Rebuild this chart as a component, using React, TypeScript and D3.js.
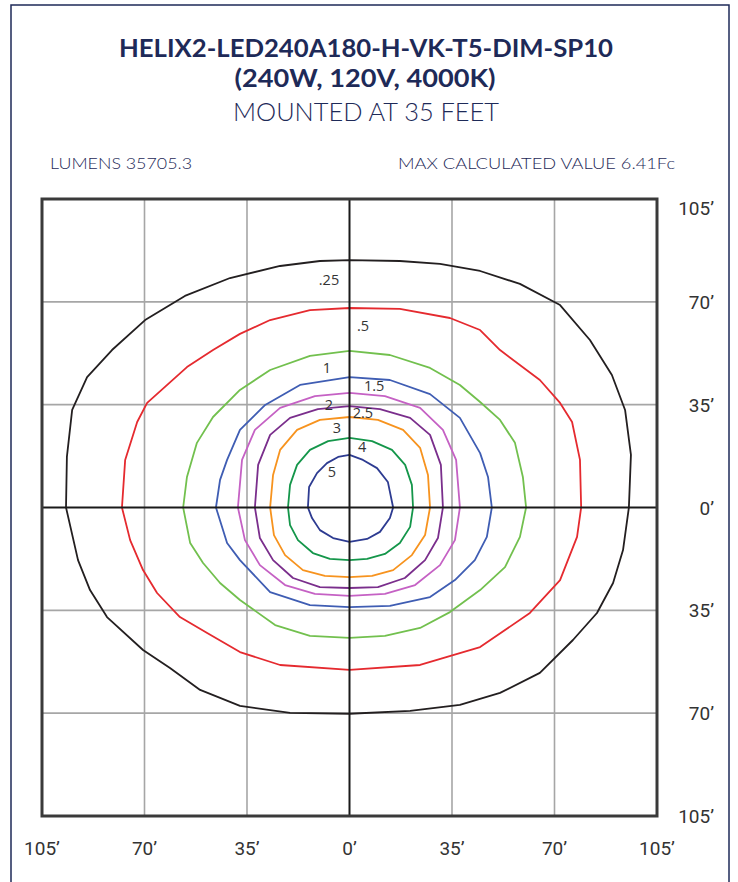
import { useEffect } from 'react';
import * as d3 from 'd3';

type Pt = [number, number];

// axis ticks (feet)
const TICKS = [-105, -70, -35, 0, 35, 70, 105];
const TICK_LABELS = ['105’', '70’', '35’', '0’', '35’', '70’', '105’'];
const Y_TICK_LABELS = ['105’', '70’', '35’', '0’', '35’', '70’', '105’'];

// iso-footcandle lines, in feet from the pole
const iso025: Pt[] = [
  [0, 84.2], [17.2, 83.9], [30.9, 82.9], [44.6, 80.5], [58.2, 76.1], [71.9, 68.9],
  [82.1, 57.0], [89.6, 45.1], [94.1, 33.2], [96.1, 17.9], [95.4, 0], [93.4, -14.5],
  [90.0, -25.7], [84.5, -35.9], [76.3, -45.1], [65.0, -56.3], [51.4, -63.1], [37.7, -67.2],
  [20.7, -69.2], [0, -70.2], [-20.3, -69.9], [-37.4, -67.5], [-51.0, -62.1], [-61.3, -54.6],
  [-70.5, -48.5], [-82.8, -37.3], [-88.6, -28.1], [-92.7, -17.9], [-96.8, 0], [-96.5, 17.2],
  [-94.7, 33.2], [-89.6, 44.4], [-81.1, 53.6], [-69.8, 63.8], [-56.2, 72.0], [-40.8, 78.1],
  [-23.7, 82.2], [-10.1, 83.9],
];
const iso05: Pt[] = [
  [0, 67.9], [17.2, 67.6], [34.3, 64.5], [44.6, 60.4], [51.4, 53.6], [65.0, 43.4],
  [71.9, 35.6], [76.0, 29.1], [78.7, 16.2], [79.1, 0], [77.7, -10.0], [71.9, -24.7],
  [61.6, -35.9], [44.6, -47.5], [24.1, -53.6], [0, -55.3], [-23.7, -53.6], [-37.4, -49.2],
  [-48.6, -42.7], [-57.9, -37.3], [-65.7, -29.1], [-70.5, -21.3], [-74.9, -11.1], [-77.7, 0],
  [-76.6, 16.2], [-72.5, 29.1], [-69.1, 35.6], [-55.5, 47.8], [-46.6, 53.6], [-37.4, 59.1],
  [-27.1, 63.8], [-13.5, 67.2],
];
const iso1: Pt[] = [
  [0, 53.3], [13.8, 51.9], [27.5, 47.5], [37.7, 41.7], [44.6, 35.9], [51.4, 29.8],
  [56.5, 22.0], [59.2, 10.4], [60.3, 0], [58.2, -10.0], [53.1, -20.3], [44.6, -28.1],
  [34.3, -35.6], [24.1, -41.0], [12.1, -43.7], [0, -44.4], [-13.5, -43.7], [-25.4, -40.0],
  [-37.4, -31.5], [-44.2, -25.7], [-50.0, -18.9], [-54.4, -12.1], [-56.8, 0], [-55.5, 10.4],
  [-52.1, 22.0], [-46.6, 30.8], [-37.4, 40.0], [-27.1, 46.8], [-13.5, 51.6],
];
const iso15: Pt[] = [
  [0, 44.4], [13.8, 43.4], [27.5, 38.6], [37.7, 30.5], [44.6, 18.5], [47.3, 10.4],
  [48.6, 0], [46.9, -10.0], [42.8, -17.9], [36.0, -24.7], [27.5, -30.5], [13.8, -33.5],
  [0, -33.9], [-13.5, -33.2], [-27.1, -28.8], [-37.4, -17.9], [-41.8, -12.1], [-45.6, 0],
  [-44.2, 9.4], [-41.8, 16.2], [-37.4, 26.4], [-28.8, 34.9], [-16.9, 41.7],
];
const iso2: Pt[] = [
  [0, 39.0], [12.1, 37.9], [24.1, 33.9], [31.9, 26.4], [36.4, 16.2], [37.7, 0],
  [36.0, -11.1], [30.9, -19.6], [22.4, -26.4], [12.1, -29.4], [0, -30.1], [-11.8, -29.4],
  [-22.0, -26.4], [-30.6, -19.6], [-35.7, -11.1], [-38.1, 0], [-36.7, 16.2], [-32.3, 26.4],
  [-23.7, 33.9], [-11.8, 37.9],
];
const iso25: Pt[] = [
  [0, 34.5], [10.4, 33.5], [20.7, 30.5], [27.5, 24.7], [31.2, 14.5], [31.9, 0],
  [30.2, -10.4], [25.8, -17.9], [18.9, -24.0], [9.7, -27.1], [0, -27.4], [-10.1, -27.1],
  [-19.3, -24.0], [-26.1, -17.9], [-30.6, -10.4], [-32.3, 0], [-31.2, 14.5], [-27.1, 24.7],
  [-20.3, 30.5], [-10.8, 33.5],
];
const iso3: Pt[] = [
  [0, 30.8], [9.7, 29.8], [18.3, 26.4], [24.1, 20.3], [26.8, 11.1], [27.5, 0],
  [25.8, -9.4], [21.3, -16.2], [14.9, -21.3], [7.7, -23.3], [0, -23.7], [-8.4, -23.3],
  [-15.9, -21.3], [-22.0, -16.2], [-25.8, -9.4], [-27.1, 0], [-26.1, 11.1], [-23.7, 19.6],
  [-17.9, 26.4], [-10.1, 29.8],
];
const iso4: Pt[] = [
  [0, 23.7], [7.7, 22.6], [14.5, 19.6], [19.0, 14.5], [21.3, 7.7], [21.7, 0],
  [20.7, -6.6], [17.2, -12.1], [12.1, -15.8], [6.0, -17.5], [0, -17.9], [-6.7, -17.5],
  [-12.5, -15.5], [-17.6, -11.1], [-20.3, -6.0], [-21.0, 0], [-20.3, 7.7], [-17.9, 14.5],
  [-13.5, 19.6], [-7.3, 22.6],
];
const iso5: Pt[] = [
  [0, 17.9], [4.6, 16.2], [9.4, 13.4], [13.1, 8.7], [14.9, 0], [13.8, -3.6],
  [10.4, -8.3], [6.0, -10.7], [0, -11.7], [-5.6, -10.4], [-10.1, -7.7], [-12.8, -3.6],
  [-14.2, 0], [-13.8, 7.0], [-11.1, 11.7], [-7.7, 15.1], [-3.9, 17.2],
];

const LEVELS = ['.25', '.5', '1', '1.5', '2', '2.5', '3', '4', '5'];
const LEVEL_LINES = [iso025, iso05, iso1, iso15, iso2, iso25, iso3, iso4, iso5];
const LEVEL_COLORS = ['#231f20', '#e52a2f', '#72c04e', '#3f5db3', '#c561c4', '#7a2e8c', '#f7931e', '#14964a', '#2d3b91'];
// where each level's number sits (feet)
const LABEL_POS: Pt[] = [
  [-7.0, 77.7], [4.6, 61.8], [-7.7, 47.8], [8.4, 41.4], [-7.0, 35.2],
  [4.6, 32.2], [-4.3, 27.1], [4.3, 20.6], [-6.0, 12.1],
];

const navy = '#1e2a58';

export default function App() {
  useEffect(() => {
    document.body.style.margin = '0';
  }, []);

  const width = 738;
  const height = 882;
  const x = d3.scaleLinear().domain([-105, 105]).range([42, 657]);
  const y = d3.scaleLinear().domain([-105, 105]).range([816, 199]);

  const line = d3.line<Pt>()
    .x(d => x(d[0]))
    .y(d => y(d[1]))
    .curve(d3.curveLinearClosed);

  const inner = TICKS.filter(t => t !== 0 && Math.abs(t) !== 105);

  return (
    <svg width={width} height={height} style={{ display: 'block', background: '#fff' }}>
      <rect x={11} y={5} width={718} height={900} fill="none" stroke={navy} strokeWidth={1.5} />

      {/* titles */}
      <g fill={navy} textAnchor="middle" fontFamily="Lato, 'Open Sans', sans-serif">
        <text x={366} y={57} fontSize={25} fontWeight={700} textLength={494} lengthAdjust="spacingAndGlyphs">
          HELIX2-LED240A180-H-VK-T5-DIM-SP10
        </text>
        <text x={365} y={87} fontSize={25} fontWeight={700} textLength={261} lengthAdjust="spacingAndGlyphs">
          (240W, 120V, 4000K)
        </text>
        <text x={366} y={121} fontSize={25} fontWeight={300} textLength={266} lengthAdjust="spacingAndGlyphs">
          MOUNTED AT 35 FEET
        </text>
      </g>
      <g fill={navy} fontFamily="Lato, 'Open Sans', sans-serif" fontSize={15} fontWeight={300}>
        <text x={50} y={169} textLength={142} lengthAdjust="spacingAndGlyphs">LUMENS 35705.3</text>
        <text x={398} y={169} textLength={277} lengthAdjust="spacingAndGlyphs">MAX CALCULATED VALUE 6.41Fc</text>
      </g>

      {/* grid */}
      <g stroke="#a6a6a6" strokeWidth={1.6}>
        {inner.map(t => (
          <line key={'v' + t} x1={x(t)} x2={x(t)} y1={y(105)} y2={y(-105)} />
        ))}
        {inner.map(t => (
          <line key={'h' + t} x1={x(-105)} x2={x(105)} y1={y(t)} y2={y(t)} />
        ))}
      </g>

      {/* iso lines */}
      <g fill="none" strokeWidth={1.8} strokeLinejoin="round">
        {LEVEL_LINES.map((pts, i) => (
          <path key={LEVELS[i]} d={line(pts) || ''} stroke={LEVEL_COLORS[i]} />
        ))}
      </g>

      {/* center axes */}
      <g stroke="#1a1a1a" strokeWidth={2}>
        <line x1={x(0)} x2={x(0)} y1={y(105)} y2={y(-105)} />
        <line x1={x(-105)} x2={x(105)} y1={y(0)} y2={y(0)} />
      </g>
      <rect x={x(-105)} y={y(105)} width={x(105) - x(-105)} height={y(-105) - y(105)}
        fill="none" stroke="#3a3a3a" strokeWidth={3} />

      {/* level labels */}
      <g fill="#333" fontFamily="'Open Sans', 'Noto Sans', sans-serif" fontSize={14.5} textAnchor="middle" dominantBaseline="central">
        {LEVELS.map((lv, i) => (
          <text key={lv} x={x(LABEL_POS[i][0])} y={y(LABEL_POS[i][1])}>{lv}</text>
        ))}
      </g>

      {/* axis labels */}
      <g fill="#333" fontFamily="Roboto, sans-serif" fontSize={19}>
        {TICKS.map((t, i) => (
          <text key={'x' + i} x={x(t)} y={855} textAnchor="middle">{TICK_LABELS[i]}</text>
        ))}
        {TICKS.map((t, i) => (
          <text key={'y' + i} x={714} y={t === 105 ? y(t) + 16 : y(t) + 7} textAnchor="end">{Y_TICK_LABELS[i]}</text>
        ))}
      </g>
    </svg>
  );
}
